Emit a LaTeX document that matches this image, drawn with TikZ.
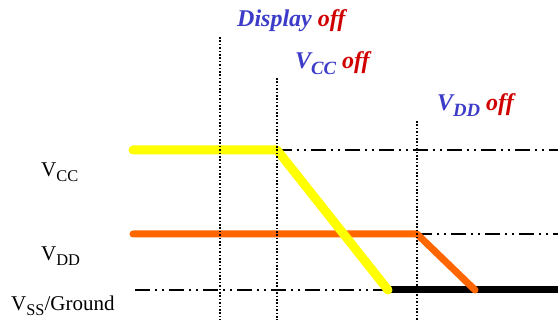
\documentclass[tikz,border=0pt]{standalone}
\usepackage{fontspec}
\setmainfont{Liberation Serif}
\definecolor{railyellow}{HTML}{FFFF00}
\definecolor{railorange}{HTML}{FF6600}
\definecolor{noteblue}{HTML}{3C3CC8}
\definecolor{notered}{HTML}{D00000}
\newcommand{\offword}{\textcolor{notered}{off}}
\newcommand{\lowsub}[1]{\raisebox{-0.22em}{\scalebox{0.78}{#1}}}

\begin{document}
\begin{tikzpicture}[x=1pt, y=-1pt,
    every node/.style={inner sep=0pt, anchor=base west},
    lvl/.style={font=\fontsize{21}{25}\selectfont},
    note/.style={font=\fontsize{24}{28}\selectfont\bfseries\itshape, text=noteblue},
    marker/.style={line width=2pt, dash pattern=on 1.6pt off 1.8pt},
    ref/.style={line width=2pt, dash pattern=on 15pt off 5pt on 2pt off 5pt on 2pt off 5pt},
    rail/.style={line width=7pt, line cap=round, line join=round}]
  \useasboundingbox (0,0) rectangle (558,320);
  % level names
  \node[lvl] (vcc) at (41,177) {V\lowsub{CC}};
  \node[lvl] (vdd) at (41,261) {V\lowsub{DD}};
  \node[lvl] (vss) at (11,311) {V\lowsub{SS}/Ground};
  % events
  \node[note] (dispoff) at (237,27) {Display \offword};
  \node[note] (vccoff) at (295,69) {V\lowsub{CC} \offword};
  \node[note] (vddoff) at (437,111) {V\lowsub{DD} \offword};
  % corners of the rails
  \coordinate (ys) at (133,150);
  \coordinate (yk) at (277,150);
  \coordinate (ye) at (388,290);
  \coordinate (os) at (133,234);
  \coordinate (ok) at (417,234);
  \coordinate (oe) at (475,290);
  \coordinate (gs) at (135,290);
  \coordinate (ge) at (558,290);
  \coordinate (cr) at (558,150);
  \coordinate (dr) at (558,234);
  % reference levels
  \draw[ref] (yk) -- (cr);
  \draw[ref] (ok) -- (dr);
  \draw[ref] (gs) -- (ye);
  % rails
  \draw[rail, black] (ye) -- (ge);
  \draw[rail, railorange] (os) -- (ok) -- (oe);
  \draw[rail, railyellow, line width=9pt] (ys) -- (yk) -- (ye);
  % event markers
  \coordinate (m1t) at (220,37);  \coordinate (m1b) at (220,320);
  \coordinate (m2t) at (277,78);  \coordinate (m2b) at (277,320);
  \coordinate (m3t) at (417,121); \coordinate (m3b) at (417,320);
  \draw[marker] (m1t) -- (m1b);
  \draw[marker] (m2t) -- (m2b);
  \draw[marker] (m3t) -- (m3b);
\end{tikzpicture}
\end{document}
